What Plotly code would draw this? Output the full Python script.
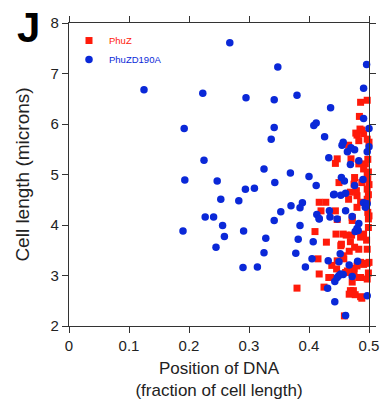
import plotly.graph_objects as go

# PhuZ (red squares)
phuz_x = [0.497,0.486,0.484,0.480,0.491,0.497,0.483,0.466,0.488,0.500,0.478,0.485,
          0.447,0.444,0.470,0.483,0.494,0.491,0.497,0.476,0.450,0.475,0.488,0.497,0.469,0.480,0.497,
          0.417,0.428,0.466,0.486,0.494,0.479,
          0.420,0.444,0.480,0.500,0.472,0.447,0.499,0.472,0.410,0.445,0.457,0.462,0.471,0.491,0.486,
          0.429,0.469,0.454,0.476,0.453,0.467,0.483,0.497,0.457,0.415,0.447,0.486,0.497,0.500,0.491,
          0.480,0.446,0.475,0.464,0.475,0.461,0.417,0.433,0.436,0.486,0.497,0.483,0.472,0.425,0.380,
          0.469,0.474,0.467,0.477,0.486,0.488,0.459,
          0.498,0.499,0.498,0.500,0.499,0.498,0.499,0.496,0.499,0.438,0.458]
phuz_y = [6.47,6.43,6.15,5.78,5.81,5.70,5.67,5.58,5.88,5.64,5.82,5.90,
          5.31,5.22,5.31,5.21,5.21,5.11,5.01,4.94,4.84,4.81,4.84,4.71,4.65,4.58,4.51,
          4.45,4.45,4.51,4.45,4.38,4.68,
          4.28,4.28,4.35,4.18,4.15,4.11,4.12,4.09,3.87,3.82,3.82,3.80,3.80,3.82,3.76,
          3.66,3.67,3.62,3.56,3.59,3.48,3.52,3.52,3.39,3.33,3.29,3.26,3.24,3.26,3.22,
          3.19,3.13,3.14,3.09,3.06,3.06,3.03,2.96,2.96,2.96,2.93,2.96,2.87,2.77,2.75,
          2.70,2.70,2.63,2.62,2.58,2.55,2.20,
          5.30,5.05,4.90,4.80,4.60,4.25,3.95,3.70,3.05,3.20,3.33]

# PhuZD190A (blue circles)
d190a_x = [0.268,0.348,0.125,0.223,0.295,0.342,0.380,0.436,0.496,0.491,0.491,0.500,0.192,0.342,
           0.408,0.412,0.426,0.337,0.457,0.455,0.470,0.476,0.464,0.500,0.497,0.433,0.483,0.469,
           0.225,0.325,0.369,0.193,0.247,0.343,0.400,0.412,0.454,0.459,0.476,0.490,0.294,0.309,
           0.441,0.453,0.461,0.253,0.283,0.389,0.370,0.385,0.353,0.491,0.494,0.413,0.417,0.434,
           0.435,0.447,0.461,0.472,0.227,0.241,0.342,0.256,0.385,0.483,0.190,0.291,0.259,0.328,
           0.382,0.407,0.477,0.482,0.480,0.245,0.325,0.378,0.405,0.432,0.452,0.450,0.467,0.481,
           0.394,0.290,0.314,0.457,0.450,0.443,0.447,0.453,0.472,0.431,0.443,0.461,0.497,0.497,
           0.442,0.417]
d190a_y = [7.61,7.13,6.68,6.61,6.52,6.48,6.57,6.32,7.18,6.71,6.11,5.91,5.91,5.93,
           5.97,6.02,5.75,5.70,5.64,5.58,5.53,5.49,5.45,5.55,5.45,5.33,5.27,5.20,
           5.28,5.11,5.03,4.89,4.87,4.84,4.96,4.78,4.94,4.87,4.78,4.90,4.71,4.73,
           4.60,4.59,4.63,4.51,4.48,4.44,4.38,4.34,4.26,4.44,4.35,4.21,4.13,4.28,
           4.16,4.12,4.28,4.17,4.16,4.16,4.09,3.99,3.99,4.03,3.88,3.88,3.77,3.74,
           3.72,3.67,3.87,3.89,3.93,3.56,3.45,3.44,3.33,3.29,3.43,3.27,3.21,3.28,
           3.17,3.16,3.17,3.02,3.00,2.88,2.96,3.03,2.98,2.75,2.48,2.21,2.60,4.42,
           4.61,4.12]

x_ticks = [0, 0.1, 0.2, 0.3, 0.4, 0.5]
x_tick_text = ["0", "0.1", "0.2", "0.3", "0.4", "0.5"]
y_ticks = [2, 3, 4, 5, 6, 7, 8]

FONT = "Liberation Sans, Arial, Helvetica, sans-serif"
RED = "#ff1a0a"
BLUE = "#0a28d8"

fig = go.Figure()
fig.add_trace(go.Scatter(x=phuz_x, y=phuz_y, mode="markers",
                         name=f"<span style='color:{RED}'>PhuZ</span>",
                         marker=dict(symbol="square", size=7, color=RED, line=dict(width=0)),
                         cliponaxis=False))
fig.add_trace(go.Scatter(x=d190a_x, y=d190a_y, mode="markers",
                         name=f"<span style='color:{BLUE}'>PhuZD190A</span>",
                         marker=dict(symbol="circle", size=7.5, color=BLUE, line=dict(width=0)),
                         cliponaxis=False))

axis_common = dict(showline=True, linecolor="#333333", linewidth=1.3, ticks="outside",
                   ticklen=6, tickwidth=1.3, tickcolor="#333333", mirror="ticks",
                   showgrid=False, zeroline=False,
                   tickfont=dict(family=FONT, size=15, color="#222222"))

fig.update_xaxes(range=[0, 0.5], tickvals=x_ticks, ticktext=x_tick_text,
                 title=dict(text="Position of DNA<br>(fraction of cell length)",
                            font=dict(family=FONT, size=17, color="#222222"), standoff=8),
                 **axis_common)
fig.update_yaxes(range=[2, 8], tickvals=y_ticks,
                 title=dict(text="Cell length (microns)",
                            font=dict(family=FONT, size=19, color="#222222"), standoff=15),
                 **axis_common)

fig.add_annotation(text="<b>J</b>", xref="paper", yref="paper", x=-0.135, y=1.07,
                   xanchor="center", yanchor="top", showarrow=False,
                   font=dict(family=FONT, size=42, color="#000000"))

fig.update_layout(
    width=387, height=404,
    margin=dict(l=69, r=8, t=23, b=69),
    plot_bgcolor="white", paper_bgcolor="white",
    showlegend=True,
    legend=dict(x=0.0, y=0.99, xanchor="left", yanchor="top", bgcolor="rgba(0,0,0,0)",
                font=dict(family=FONT, size=9.5), tracegroupgap=0),
)

fig.write_html("out.html")
